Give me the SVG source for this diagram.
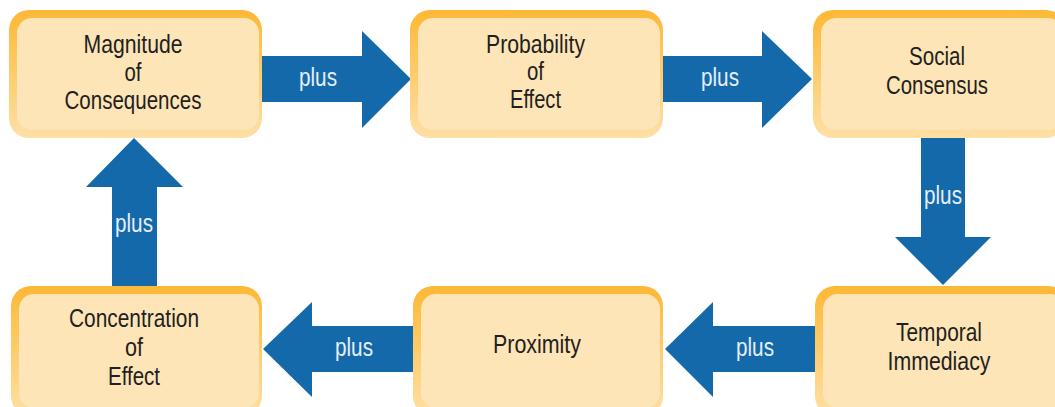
<svg xmlns="http://www.w3.org/2000/svg" width="1055" height="407" viewBox="0 0 1055 407">
  <defs>
    <linearGradient id="rim" x1="0" y1="0" x2="0" y2="1">
      <stop offset="0" stop-color="#FDB835"/>
      <stop offset="1" stop-color="#FEE0A6"/>
    </linearGradient>
    <style>
      .rim { fill: url(#rim); }
      .face { fill: #FEE5B8; }
      .label { font-family: "Liberation Sans", Arial, sans-serif; font-size: 25px; fill: #231F20; text-anchor: middle; }
      .arrow { fill: #1469AA; }
      .plus { font-family: "Liberation Sans", Arial, sans-serif; font-size: 25px; fill: #E6EEF6; text-anchor: middle; }
    </style>
  </defs>
  <rect width="1055" height="407" fill="#FFFFFF"/>

  <!-- connectors: block arrows, each carrying its "plus" label -->
  <g id="connectors">
    <polygon class="arrow" points="262,56 362,56 362,31 411,79 362,128 362,102 262,102"/>
    <text class="plus" x="318" y="86" textLength="38" lengthAdjust="spacingAndGlyphs">plus</text>
    <polygon class="arrow" points="663,56 762,56 762,31 812,79 762,128 762,102 663,102"/>
    <text class="plus" x="720" y="86" textLength="38" lengthAdjust="spacingAndGlyphs">plus</text>
    <polygon class="arrow" points="921,137 965,137 965,237 991,237 943,285 895,237 921,237"/>
    <text class="plus" x="943" y="204" textLength="38" lengthAdjust="spacingAndGlyphs">plus</text>
    <polygon class="arrow" points="815,326 713,326 713,302 665,349 713,397 713,372 815,372"/>
    <text class="plus" x="755" y="356" textLength="38" lengthAdjust="spacingAndGlyphs">plus</text>
    <polygon class="arrow" points="413,326 312,326 312,302 263,349 312,397 312,372 413,372"/>
    <text class="plus" x="354" y="356" textLength="38" lengthAdjust="spacingAndGlyphs">plus</text>
    <polygon class="arrow" points="112,286 112,187 86,187 134,138 183,187 157,187 157,286"/>
    <text class="plus" x="134" y="232" textLength="38" lengthAdjust="spacingAndGlyphs">plus</text>
  </g>

  <g id="magnitude">
    <rect class="rim" x="9" y="10" width="253" height="128" rx="20"/>
    <rect class="face" x="17" y="18" width="242" height="112" rx="15"/>
    <text class="label" x="133" y="53" textLength="99" lengthAdjust="spacingAndGlyphs">Magnitude</text>
    <text class="label" x="133" y="81" textLength="17" lengthAdjust="spacingAndGlyphs">of</text>
    <text class="label" x="133" y="109" textLength="137" lengthAdjust="spacingAndGlyphs">Consequences</text>
  </g>

  <g id="probability">
    <rect class="rim" x="410" y="10" width="253" height="128" rx="20"/>
    <rect class="face" x="418" y="18" width="242" height="112" rx="15"/>
    <text class="label" x="535.5" y="53" textLength="99" lengthAdjust="spacingAndGlyphs">Probability</text>
    <text class="label" x="535.5" y="80" textLength="17" lengthAdjust="spacingAndGlyphs">of</text>
    <text class="label" x="535.5" y="108" textLength="51" lengthAdjust="spacingAndGlyphs">Effect</text>
  </g>

  <g id="social">
    <rect class="rim" x="813" y="10" width="253" height="128" rx="20"/>
    <rect class="face" x="821" y="18" width="242" height="112" rx="15"/>
    <text class="label" x="937" y="65" textLength="56" lengthAdjust="spacingAndGlyphs">Social</text>
    <text class="label" x="937" y="94" textLength="102" lengthAdjust="spacingAndGlyphs">Consensus</text>
  </g>

  <g id="temporal">
    <rect class="rim" x="815" y="286" width="253" height="130" rx="20"/>
    <rect class="face" x="823" y="294" width="242" height="114" rx="15"/>
    <text class="label" x="939" y="341" textLength="86" lengthAdjust="spacingAndGlyphs">Temporal</text>
    <text class="label" x="939" y="370" textLength="103" lengthAdjust="spacingAndGlyphs">Immediacy</text>
  </g>

  <g id="proximity">
    <rect class="rim" x="413" y="286" width="250" height="130" rx="20"/>
    <rect class="face" x="421" y="294" width="239" height="114" rx="15"/>
    <text class="label" x="537" y="353" textLength="88" lengthAdjust="spacingAndGlyphs">Proximity</text>
  </g>

  <g id="concentration">
    <rect class="rim" x="11" y="286" width="251" height="130" rx="20"/>
    <rect class="face" x="19" y="294" width="240" height="114" rx="15"/>
    <text class="label" x="134" y="327" textLength="130" lengthAdjust="spacingAndGlyphs">Concentration</text>
    <text class="label" x="134" y="356" textLength="18" lengthAdjust="spacingAndGlyphs">of</text>
    <text class="label" x="134" y="385" textLength="52" lengthAdjust="spacingAndGlyphs">Effect</text>
  </g>
</svg>
